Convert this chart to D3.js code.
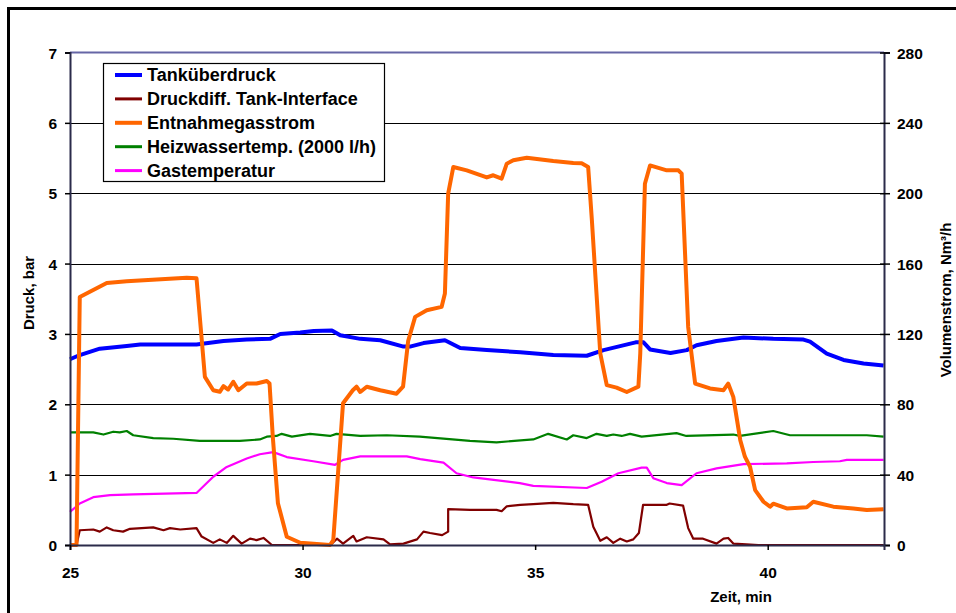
<!DOCTYPE html>
<html>
<head>
<meta charset="utf-8">
<script src="https://cdn.jsdelivr.net/npm/d3@7"></script>
<style>
    body { margin: 0; background: #fff; }
    text { font-family: "Liberation Sans", Arial, sans-serif; font-weight: bold; fill: #000; }
    .grid line { stroke: #000; stroke-width: 1; }
    .series { fill: none; stroke-linejoin: round; }
</style>
</head>
<body>
<svg id="canvas" width="956" height="613"></svg>
<script>
// Time axis (minutes) and tick labels
const xTicks = [25, 30, 35, 40];
const leftTicks = [0, 1, 2, 3, 4, 5, 6, 7];
const rightTicks = [0, 40, 80, 120, 160, 200, 240, 280];

// Tanküberdruck (bar)
const tankT = [25.00, 25.21, 25.64, 26.22, 26.51, 27.72, 28.30, 28.80, 29.30, 29.52, 29.95, 30.24, 30.63, 30.81,
    31.24, 31.67, 32.17, 32.31, 32.60, 33.06, 33.39, 33.96, 34.68, 35.39, 36.11, 36.47, 37.16, 37.33, 37.47,
    37.91, 38.26, 38.47, 38.90, 39.48, 40.12, 40.77, 40.91, 41.27, 41.63, 42.06, 42.49];
const tankV = [2.64, 2.70, 2.79, 2.83, 2.85, 2.85, 2.90, 2.92, 2.93, 3.00, 3.02, 3.04, 3.05, 2.98,
    2.93, 2.91, 2.82, 2.82, 2.87, 2.91, 2.80, 2.77, 2.74, 2.70, 2.69, 2.77, 2.88, 2.88, 2.78,
    2.73, 2.77, 2.84, 2.90, 2.95, 2.93, 2.92, 2.89, 2.72, 2.63, 2.58, 2.55];

// Druckdiff. Tank-Interface (bar)
const diffT = [25.00, 25.14, 25.21, 25.50, 25.64, 25.79, 25.93, 26.14, 26.29, 26.79, 27.01, 27.15, 27.37,
    27.72, 27.83, 28.08, 28.22, 28.37, 28.51, 28.69, 28.87, 29.01, 29.16, 29.34, 30.60, 30.74, 30.87, 31.09,
    31.16, 31.38, 31.74, 31.88, 32.17, 32.46, 32.60, 32.74, 33.00, 33.13, 33.13, 33.60, 34.17, 34.28, 34.39,
    34.68, 34.96, 35.39, 35.82, 36.14, 36.25, 36.40, 36.54, 36.68, 36.83, 36.97, 37.11, 37.23, 37.32, 37.82,
    37.89, 38.18, 38.29, 38.40, 38.61, 38.90, 39.05, 39.15, 39.26, 39.54, 39.80, 42.49];
const diffV = [0.00, 0.00, 0.21, 0.22, 0.19, 0.25, 0.21, 0.19, 0.23, 0.25, 0.21, 0.24, 0.22,
    0.24, 0.12, 0.03, 0.08, 0.03, 0.13, 0.02, 0.09, 0.07, 0.10, 0.00, 0.00, 0.09, 0.02, 0.13,
    0.05, 0.11, 0.08, 0.01, 0.02, 0.08, 0.19, 0.17, 0.14, 0.19, 0.51, 0.50, 0.50, 0.48, 0.55,
    0.57, 0.58, 0.60, 0.58, 0.57, 0.26, 0.06, 0.11, 0.03, 0.09, 0.05, 0.08, 0.17, 0.57, 0.57,
    0.59, 0.56, 0.24, 0.09, 0.09, 0.02, 0.09, 0.10, 0.02, 0.01, 0.00, 0.00];

// Entnahmegasstrom (Nm³/h)
const flowT = [25.00, 25.14, 25.21, 25.79, 26.22, 27.51, 27.72, 27.90, 28.08, 28.22, 28.30, 28.40, 28.51,
    28.62, 28.80, 29.01, 29.23, 29.29, 29.36, 29.47, 29.66, 29.95, 30.59, 30.66, 30.87, 31.08, 31.16, 31.24,
    31.38, 31.67, 32.02, 32.16, 32.27, 32.42, 32.67, 32.99, 33.06, 33.13, 33.24, 33.53, 33.96, 34.10, 34.28,
    34.39, 34.53, 34.82, 35.39, 35.82, 36.00, 36.14, 36.22, 36.40, 36.54, 36.75, 36.97, 37.22, 37.26, 37.36,
    37.47, 37.83, 38.08, 38.15, 38.29, 38.44, 38.76, 39.05, 39.15, 39.26, 39.41, 39.51, 39.62, 39.73, 39.91,
    40.05, 40.12, 40.41, 40.84, 40.98, 41.41, 41.84, 42.13, 42.49];
const flowV = [0, 0, 141, 149, 150, 152, 151.6, 95.6, 88, 87.1, 90.3, 88.4, 92.8,
    88, 91.8, 91.8, 93.2, 91.8, 61.5, 23.8, 4.7, 1.3, 0, 2.8, 80.6, 88, 90, 87,
    90, 88, 86, 90, 116, 129.7, 133.5, 135.4, 143, 199.8, 214.9, 213, 209, 210.2, 208.3,
    216.8, 218.7, 220.2, 218.3, 217.2, 217, 214.9, 184.6, 108.9, 90.9, 89.5, 87, 90, 109, 205.4,
    215.8, 213, 213, 211.1, 124, 91.8, 89, 88, 91.8, 84.2, 59.6, 50.2, 44.5, 31.2, 24.6,
    21.8, 23.5, 20.8, 21.5, 24.6, 21.8, 20.8, 19.9, 20.3];

// Heizwassertemp. (2000 l/h), plotted on the pressure axis
const waterT = [25.00, 25.50, 25.72, 25.93, 26.07, 26.22, 26.36, 26.79, 27.22, 27.79, 28.65, 29.08, 29.23,
    29.44, 29.55, 29.77, 30.16, 30.59, 30.73, 31.24, 31.81, 32.52, 33.60, 34.17, 34.96, 35.28, 35.68,
    35.82, 36.11, 36.32, 36.54, 36.68, 36.86, 37.04, 37.29, 38.04, 38.25, 39.26, 39.40, 40.12, 40.48,
    42.13, 42.49];
const waterV = [1.60, 1.60, 1.57, 1.61, 1.60, 1.62, 1.56, 1.52, 1.51, 1.48, 1.48, 1.50, 1.54,
    1.55, 1.58, 1.54, 1.58, 1.55, 1.58, 1.55, 1.56, 1.54, 1.48, 1.46, 1.50, 1.58, 1.50,
    1.56, 1.52, 1.58, 1.55, 1.57, 1.55, 1.58, 1.54, 1.59, 1.55, 1.57, 1.55, 1.62, 1.56,
    1.56, 1.54];

// Gastemperatur, plotted on the pressure axis
const gasT = [25.00, 25.21, 25.50, 25.86, 26.36, 27.72, 28.08, 28.37, 28.80, 29.08, 29.37, 29.66, 30.23,
    30.70, 30.87, 31.24, 31.45, 32.24, 32.53, 33.03, 33.31, 33.67, 34.67, 34.96, 36.11, 36.43, 36.79,
    37.29, 37.40, 37.54, 37.83, 38.15, 38.47, 38.90, 39.48, 40.41, 40.98, 41.55, 41.70, 42.49];
const gasV = [0.47, 0.59, 0.68, 0.71, 0.72, 0.74, 0.97, 1.11, 1.23, 1.29, 1.32, 1.25, 1.19,
    1.14, 1.21, 1.26, 1.26, 1.26, 1.22, 1.17, 1.02, 0.96, 0.88, 0.84, 0.81, 0.90, 1.02,
    1.10, 1.10, 0.95, 0.88, 0.85, 1.02, 1.09, 1.15, 1.16, 1.18, 1.19, 1.21, 1.21];

const legendNames = ["Tanküberdruck", "Druckdiff. Tank-Interface", "Entnahmegasstrom",
    "Heizwassertemp. (2000 l/h)", "Gastemperatur"];

const LEFT = 70, RIGHT = 884, TOP = 52.5, BOTTOM = 545;

const x = d3.scaleLinear().domain([25, 42.5]).range([LEFT, RIGHT]);
const yLeft = d3.scaleLinear().domain([0, 7]).range([BOTTOM, TOP]);
const yRight = d3.scaleLinear().domain([0, 280]).range([BOTTOM, TOP]);

/**
 * Draws the outer frame, grid lines and the top edge of the plot.
 */
function drawFrame() {
    const svg = d3.select("#canvas");

    svg.append("rect")
        .attr("x", 8.5).attr("y", 8.5)
        .attr("width", 960).attr("height", 620)
        .attr("fill", "none").attr("stroke", "#000").attr("stroke-width", 3);

    svg.append("g").attr("class", "grid")
        .selectAll("line")
        .data(leftTicks.slice(1, -1))
        .enter()
        .append("line")
        .attr("x1", LEFT).attr("x2", RIGHT)
        .attr("y1", d => Math.round(yLeft(d)) + 0.5)
        .attr("y2", d => Math.round(yLeft(d)) + 0.5);

    // top of the plot area in the Excel slate colour
    svg.append("line")
        .attr("x1", LEFT).attr("x2", RIGHT)
        .attr("y1", yLeft(7)).attr("y2", yLeft(7))
        .attr("stroke", "#6666a6").attr("stroke-width", 2);
}

/**
 * Axes are drawn after the series so the zero line sits on top.
 */
function drawAxes() {
    const svg = d3.select("#canvas");

    const left = svg.append("g")
        .attr("transform", "translate(" + LEFT + ",0)")
        .call(d3.axisLeft(yLeft).tickValues(leftTicks).tickSize(5).tickPadding(8).tickFormat(d3.format("d")));
    const right = svg.append("g")
        .attr("transform", "translate(" + RIGHT + ",0)")
        .call(d3.axisRight(yRight).tickValues(rightTicks).tickSize(6).tickPadding(7).tickFormat(d3.format("d")));
    const bottom = svg.append("g")
        .attr("transform", "translate(0," + BOTTOM + ")")
        .call(d3.axisBottom(x).tickValues(xTicks).tickSize(5).tickPadding(17).tickFormat(d3.format("d")));

    [left, right, bottom].forEach(g => {
        g.select(".domain").attr("stroke", "#2b2b4a").attr("stroke-width", 2);
        g.selectAll(".tick line").attr("stroke", "#000").attr("stroke-width", 1.5);
        g.selectAll("text").style("font-size", "15.5px").style("font-weight", "bold")
            .attr("fill", "#000");
    });
    right.selectAll(".tick line").attr("x1", -4);
    left.selectAll("text").attr("dy", "0.36em");
    right.selectAll("text").attr("dy", "0.36em");

    svg.append("text")
        .attr("transform", "translate(34,293) rotate(-90)")
        .attr("text-anchor", "middle")
        .style("font-size", "15px")
        .text("Druck, bar");

    svg.append("text")
        .attr("transform", "translate(951,300) rotate(-90)")
        .attr("text-anchor", "middle")
        .style("font-size", "15px")
        .text("Volumenstrom, Nm³/h");

    svg.append("text")
        .attr("x", 741).attr("y", 602)
        .attr("text-anchor", "middle")
        .style("font-size", "15px")
        .text("Zeit, min");
}

/**
 * Renders one series as a polyline through its sampled points.
 */
function drawSeries(times, values, yScale, color, width) {
    const pts = times.map((t, i) => [t, values[i]]);
    const line = d3.line()
        .x(p => x(p[0]))
        .y(p => yScale(p[1]));
    d3.select("#canvas").append("path")
        .datum(pts)
        .attr("class", "series")
        .attr("stroke", color)
        .attr("stroke-width", width)
        .attr("d", line);
}

/**
 * Draws the legend box in the upper left of the plot.
 */
function drawLegend() {
    const colors = ["#0000ff", "#800000", "#ff6600", "#008000", "#ff00ff"];
    const widths = [4, 3, 4, 3, 3];
    const g = d3.select("#canvas").append("g");

    g.append("rect")
        .attr("x", 103.5).attr("y", 63.5)
        .attr("width", 281).attr("height", 118)
        .attr("fill", "#fff").attr("stroke", "#000").attr("stroke-width", 1.2);

    const rows = g.selectAll(".legend-row")
        .data(legendNames)
        .enter()
        .append("g")
        .attr("transform", (d, i) => "translate(0," + (75 + i * 23.9) + ")");

    rows.append("line")
        .attr("x1", 115).attr("x2", 142)
        .attr("stroke", (d, i) => colors[i])
        .attr("stroke-width", (d, i) => widths[i]);

    rows.append("text")
        .attr("x", 147).attr("dy", "0.36em")
        .style("font-size", "18px")
        .text(d => d);
}

drawFrame();
drawSeries(waterT, waterV, yLeft, "#008000", 2.2);
drawSeries(gasT, gasV, yLeft, "#ff00ff", 2.2);
drawSeries(tankT, tankV, yLeft, "#0000ff", 4);
drawSeries(diffT, diffV, yLeft, "#800000", 2.2);
drawSeries(flowT, flowV, yRight, "#ff6600", 4);
drawAxes();
drawLegend();
</script>
</body>
</html>
